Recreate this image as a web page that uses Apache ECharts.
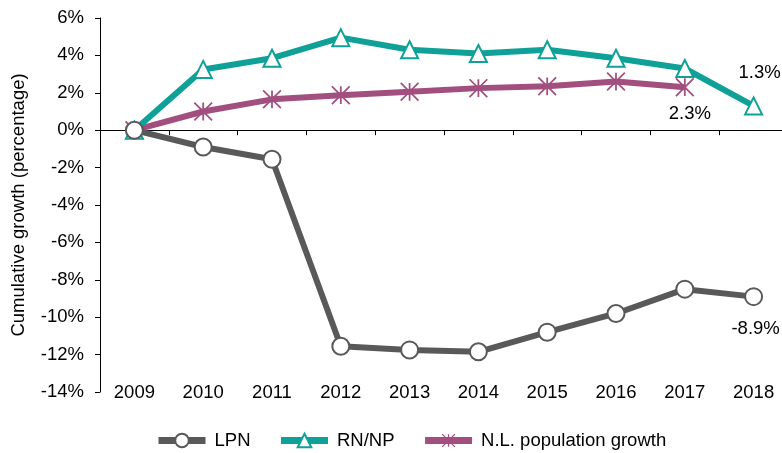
<!DOCTYPE html>
<html>
<head>
<meta charset="utf-8">
<script src="https://cdn.jsdelivr.net/npm/echarts@6/dist/echarts.min.js"></script>
<style>
  html, body { margin: 0; padding: 0; background: #fff; }
  #chart { width: 782px; height: 453px; }
</style>
</head>
<body>
<div id="chart"></div>
<script>
// 数据
const years = ["2009", "2010", "2011", "2012", "2013", "2014", "2015", "2016", "2017", "2018"];
const lpn = [0, -0.9, -1.55, -11.55, -11.75, -11.85, -10.8, -9.8, -8.5, -8.9];
const rnnp = [0, 3.25, 3.85, 4.95, 4.3, 4.1, 4.3, 3.85, 3.3, 1.3];
const population = [0, 1.0, 1.65, 1.87, 2.05, 2.25, 2.35, 2.6, 2.3, null];

const FONT = "'Liberation Sans', Arial, sans-serif";
const FS = 18.5;
const GRAY = "#595959";
const TEAL = "#0FA197";
const PURPLE = "#A24F7F";

// 星号标记
const starPath = "path://M-1,-10L1,-10L1,10L-1,10Z" +
  "M-9.3,-10.7L10.7,9.3L9.3,10.7L-10.7,-9.3Z" +
  "M9.3,-10.7L10.7,-9.3L-9.3,10.7L-10.7,9.3Z";

// 给某个点加数值标签
function withLabel(arr, idx, pos, dist, offset) {
  return arr.map((v, i) => i === idx ? {
    value: v,
    label: {
      show: true, position: pos, distance: dist, offset: offset,
      formatter: v.toFixed(1) + "%",
      color: "#000", fontSize: FS, fontFamily: FONT
    }
  } : v);
}

const chart = echarts.init(document.getElementById("chart"));
chart.setOption({
  animation: false,
  grid: {
    left: 100, right: -6, top: 18, bottom: 61,
    containLabel: false, outerBoundsMode: "none"
  },
  legend: {
    top: 426,
    left: 150,
    itemWidth: 47,
    itemHeight: 17,
    itemGap: 27,
    lineStyle: { width: 7 },
    textStyle: { fontSize: FS, color: "#000", fontFamily: FONT, padding: [0, 0, 0, 4] },
    data: ["LPN", "RN/NP", "N.L. population growth"]
  },
  xAxis: [
    {
      type: "category",
      data: years,
      boundaryGap: true,
      axisLine: { onZero: true, lineStyle: { color: "#000", width: 1 } },
      axisTick: { show: true, length: 5, lineStyle: { color: "#000" } },
      axisLabel: { show: false }
    },
    {
      type: "category",
      data: years,
      position: "bottom",
      boundaryGap: true,
      axisLine: { show: false, onZero: false },
      axisTick: { show: false },
      axisLabel: {
        margin: -9,
        fontSize: FS, color: "#000", fontFamily: FONT
      }
    }
  ],
  yAxis: {
    type: "value",
    min: -14, max: 6, interval: 2,
    name: "Cumulative growth (percentage)",
    nameLocation: "middle",
    nameGap: 72,
    nameRotate: 90,
    nameTextStyle: { fontSize: FS, color: "#000", fontFamily: FONT },
    axisLine: { show: true, lineStyle: { color: "#000", width: 1 } },
    axisTick: { show: true, length: 5, lineStyle: { color: "#000" } },
    splitLine: { show: false },
    axisLabel: {
      margin: 16, fontSize: FS, color: "#000", fontFamily: FONT,
      formatter: v => v + "%"
    }
  },
  series: [
    {
      name: "LPN",
      type: "line",
      data: withLabel(lpn, 9, "bottom", 13, [2, 0]),
      symbol: "circle",
      symbolSize: 17,
      lineStyle: { color: GRAY, width: 6 },
      itemStyle: { color: "#fff", borderColor: GRAY, borderWidth: 2 },
      z: 3
    },
    {
      name: "RN/NP",
      type: "line",
      data: withLabel(rnnp, 9, "top", 14, [6, 0]),
      symbol: "triangle",
      symbolSize: 17,
      lineStyle: { color: TEAL, width: 6 },
      itemStyle: { color: "#fff", borderColor: TEAL, borderWidth: 2 },
      z: 2
    },
    {
      name: "N.L. population growth",
      type: "line",
      data: withLabel(population, 8, "bottom", 8, [5, 0]),
      symbol: starPath,
      symbolSize: 19,
      lineStyle: { color: PURPLE, width: 6 },
      itemStyle: { color: PURPLE, borderWidth: 0 },
      z: 1
    }
  ]
});
</script>
</body>
</html>
